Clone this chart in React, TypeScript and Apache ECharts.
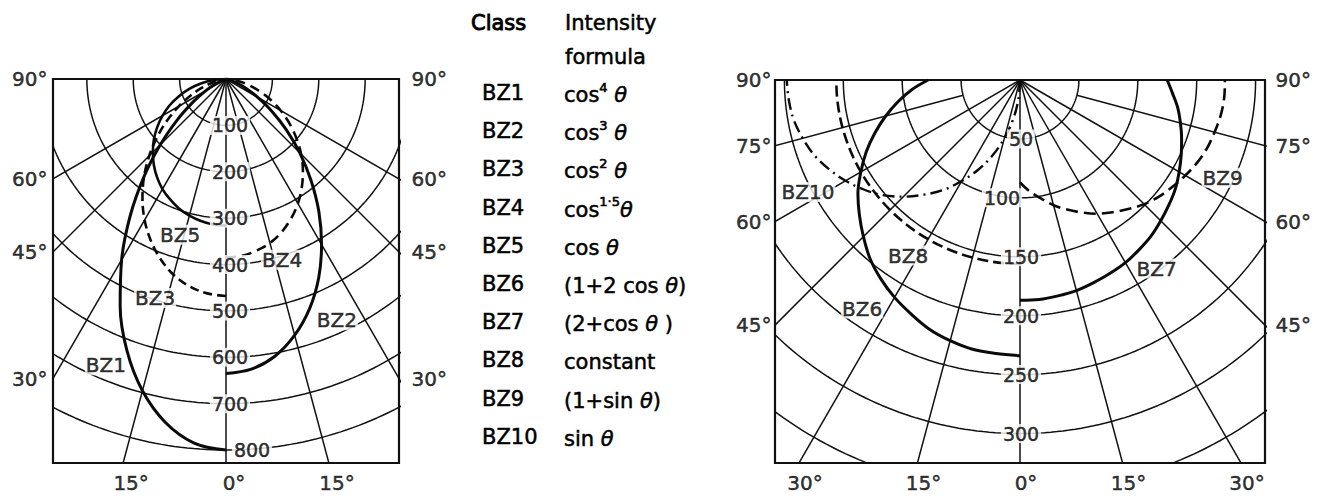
import React, { useEffect, useRef } from 'react';
import * as echarts from 'echarts';

// Angles (degrees from the downward vertical) at which the intensities are given
const ANGLES = [0, 5, 10, 15, 20, 25, 30, 35, 40, 45, 50, 55, 60, 65, 70, 75, 80, 85, 90];

// Left diagram: intensity distributions BZ1–BZ5
const BZ1 = [800, 788, 752, 696, 624, 540, 450, 360, 275, 200, 137, 87, 50, 26, 11, 4, 1, 0, 0];
const BZ2 = [635, 628, 607, 572, 527, 473, 412, 349, 285, 225, 169, 120, 79, 48, 25, 11, 3, 0, 0];
const BZ3 = [468, 464, 454, 437, 413, 384, 351, 314, 275, 234, 193, 154, 117, 84, 55, 31, 14, 4, 0];
const BZ4 = [385, 383, 376, 366, 351, 332, 310, 285, 258, 229, 198, 167, 136, 106, 77, 51, 28, 10, 0];
const BZ5 = [316, 315, 311, 305, 297, 286, 274, 259, 242, 223, 203, 181, 158, 134, 108, 82, 55, 28, 0];

// Right diagram: intensity distributions BZ6–BZ10
const BZ6 = [234, 233, 232, 229, 225, 219, 213, 206, 198, 188, 178, 168, 156, 144, 131, 118, 105, 92, 78];
const BZ7 = [187, 187, 186, 185, 183, 181, 179, 176, 173, 169, 165, 161, 156, 151, 146, 141, 136, 130, 125];
const BZ8 = [156, 156, 156, 156, 156, 156, 156, 156, 156, 156, 156, 156, 156, 156, 156, 156, 156, 156, 156];
const BZ9 = [87, 95, 102, 110, 117, 124, 131, 137, 143, 149, 154, 158, 162, 166, 169, 171, 173, 174, 174];
const BZ10 = [0, 17, 34, 51, 68, 84, 99, 114, 127, 140, 152, 162, 171, 179, 186, 191, 195, 197, 198];

// Polar grid
const LEFT_RINGS = [100, 200, 300, 400, 500, 600, 700, 800];
const RIGHT_RINGS = [50, 100, 150, 200, 250, 300, 350];
const LEFT_RING_LABELS = [100, 200, 300, 400, 500, 600, 700, 800];
const RIGHT_RING_LABELS = [50, 100, 150, 200, 250, 300];
const LEFT_SPOKES = [0, 15, 30, 45, 60];
const RIGHT_SPOKES = [0, 15, 30, 45, 60, 75];

// Angle tick labels around the frames
const LEFT_SIDE_TICKS = [90, 60, 45, 30];
const LEFT_BOTTOM_TICKS = [-15, 0, 15];
const RIGHT_SIDE_TICKS = [90, 75, 60, 45];
const RIGHT_BOTTOM_TICKS = [-30, -15, 0, 15, 30];

// Table of classes
const CLASSES = ['BZ1', 'BZ2', 'BZ3', 'BZ4', 'BZ5', 'BZ6', 'BZ7', 'BZ8', 'BZ9', 'BZ10'];
const FORMULAS = [
  '{t|cos}{s|4}{q| θ}',
  '{t|cos}{s|3}{q| θ}',
  '{t|cos}{s|2}{q| θ}',
  '{t|cos}{s|1·5}{q|θ}',
  '{t|cos }{q|θ}',
  '{t|(1+2 cos }{q|θ}{t|)}',
  '{t|(2+cos }{q|θ}{t| )}',
  '{t|constant}',
  '{t|(1+sin }{q|θ}{t|)}',
  '{t|sin }{q|θ}',
];

const FONT = '"DejaVu Sans", "Noto Sans", sans-serif';
const INK = '#000';
const INK_STROKE = { textBorderColor: '#000', textBorderWidth: 0.5 };

const rad = (d: number) => (d * Math.PI) / 180;
// intensity r at angle a (deg from nadir) on the left (-1) or right (+1) half
const polar = (r: number, a: number, side: number) => [side * r * Math.sin(rad(a)), r * Math.cos(rad(a))];

type Panel = {
  grid: { left: number; top: number; width: number; height: number };
  half: number;
  depth: number;
  rings: number[];
  ringLabels: number[];
  ringLabelShift: Record<number, number>;
  spokes: number[];
  spokeStart: Record<number, number>;
  sideTicks: number[];
  bottomTicks: number[];
  sideGap: [number, number];
  bottomShift: number;
  tags: { text: string; at: [number, number] }[];
};

const PANELS: Panel[] = [
  {
    grid: { left: 53, top: 79, width: 346, height: 384 },
    half: 373,
    depth: 828,
    rings: LEFT_RINGS,
    ringLabels: LEFT_RING_LABELS,
    ringLabelShift: { 800: 26 },
    spokes: LEFT_SPOKES,
    spokeStart: {},
    sideTicks: LEFT_SIDE_TICKS,
    bottomTicks: LEFT_BOTTOM_TICKS,
    sideGap: [5, 12],
    bottomShift: 8,
    tags: [
      { text: 'BZ5', at: [-99, 336] },
      { text: 'BZ4', at: [121, 390] },
      { text: 'BZ3', at: [-153, 472] },
      { text: 'BZ2', at: [239, 520] },
      { text: 'BZ1', at: [-259, 617] },
    ],
  },
  {
    grid: { left: 775, top: 80, width: 490, height: 383 },
    half: 208,
    depth: 325,
    rings: RIGHT_RINGS,
    ringLabels: RIGHT_RING_LABELS,
    ringLabelShift: { 100: -18 },
    spokes: RIGHT_SPOKES,
    spokeStart: { 75: 50 },
    sideTicks: RIGHT_SIDE_TICKS,
    bottomTicks: RIGHT_BOTTOM_TICKS,
    sideGap: [3, 10],
    bottomShift: 6,
    tags: [
      { text: 'BZ10', at: [-180, 95] },
      { text: 'BZ9', at: [172, 83] },
      { text: 'BZ8', at: [-95, 149] },
      { text: 'BZ7', at: [116, 160] },
      { text: 'BZ6', at: [-134, 194] },
    ],
  },
];

const CURVES = [
  { values: BZ1, panel: 0, side: -1, width: 3, type: 'solid' as any },
  { values: BZ2, panel: 0, side: 1, width: 3, type: 'solid' as any },
  { values: BZ3, panel: 0, side: -1, width: 2.6, type: [9, 5] },
  { values: BZ4, panel: 0, side: 1, width: 2.6, type: [10, 6] },
  { values: BZ5, panel: 0, side: -1, width: 2.6, type: 'solid' as any },
  { values: BZ6, panel: 1, side: -1, width: 3, type: 'solid' as any },
  { values: BZ7, panel: 1, side: 1, width: 3, type: 'solid' as any },
  { values: BZ8, panel: 1, side: -1, width: 2.6, type: [11, 5] },
  { values: BZ9, panel: 1, side: 1, width: 2.6, type: [12, 6] },
  { values: BZ10, panel: 1, side: -1, width: 2.4, type: [12, 5, 2, 5] },
];

function ringPoints(r: number) {
  const pts: number[][] = [];
  for (let a = -90; a <= 90; a += 1) pts.push(polar(r, Math.abs(a), a < 0 ? -1 : 1));
  return pts;
}

function gridLine(gi: number, data: number[][], z = 2, width = 1.5) {
  return {
    type: 'line',
    xAxisIndex: gi,
    yAxisIndex: gi,
    data,
    symbol: 'none',
    silent: true,
    clip: true,
    lineStyle: { color: '#111', width, type: 'solid' },
    z,
  };
}

function buildOption() {
  const series: any[] = [];

  PANELS.forEach((p, gi) => {
    p.rings.forEach((r) => series.push(gridLine(gi, ringPoints(r))));
    p.spokes.forEach((a) => {
      const r0 = p.spokeStart[a] ?? 0;
      const sides = a === 0 ? [1] : [-1, 1];
      sides.forEach((s) => series.push(gridLine(gi, [polar(r0, a, s), polar(3000, a, s)])));
    });

    // intensity values written along the nadir line
    series.push({
      type: 'scatter',
      xAxisIndex: gi,
      yAxisIndex: gi,
      symbolSize: 1,
      itemStyle: { color: 'rgba(0,0,0,0)' },
      silent: true,
      z: 6,
      data: p.ringLabels.map((r) => ({
        value: [0, r],
        label: {
          show: true,
          position: 'inside',
          formatter: String(r),
          offset: [p.ringLabelShift[r] ?? (gi === 0 ? 4 : 1), 0],
          fontFamily: FONT,
          fontSize: 19,
          color: INK,
          ...INK_STROKE,
          backgroundColor: '#fff',
          padding: [0, 2],
        },
      })),
    });

    // class tags inside the diagram
    series.push({
      type: 'scatter',
      xAxisIndex: gi,
      yAxisIndex: gi,
      symbolSize: 1,
      itemStyle: { color: 'rgba(0,0,0,0)' },
      silent: true,
      z: 6,
      data: p.tags.map((t) => ({
        value: t.at,
        label: {
          show: true,
          position: 'inside',
          formatter: t.text,
          fontFamily: FONT,
          fontSize: 20,
          color: INK,
          ...INK_STROKE,
          backgroundColor: '#fff',
          padding: [0, 1],
        },
      })),
    });

    // angle ticks where the spokes meet the frame
    const tickData: any[] = [];
    p.sideTicks.forEach((t) => {
      const y = t === 90 ? 0 : p.half / Math.tan(rad(t));
      tickData.push({ value: [-p.half, y], label: { position: 'left', distance: p.sideGap[0], formatter: `${t}°` } });
      tickData.push({ value: [p.half, y], label: { position: 'right', distance: p.sideGap[1], formatter: `${t}°` } });
    });
    p.bottomTicks.forEach((t) => {
      const x = Math.sign(t) * p.depth * Math.tan(rad(Math.abs(t)));
      tickData.push({
        value: [x, p.depth],
        label: { position: 'bottom', distance: 9, offset: [p.bottomShift, 0], formatter: `${Math.abs(t)}°` },
      });
    });
    series.push({
      type: 'scatter',
      xAxisIndex: gi,
      yAxisIndex: gi,
      symbolSize: 1,
      clip: false,
      itemStyle: { color: 'rgba(0,0,0,0)' },
      silent: true,
      z: 6,
      label: { show: true, fontFamily: FONT, fontSize: 20, color: INK, ...INK_STROKE },
      data: tickData,
    });
  });

  CURVES.forEach((c) => {
    series.push({
      type: 'line',
      xAxisIndex: c.panel,
      yAxisIndex: c.panel,
      data: ANGLES.map((a, i) => polar(c.values[i], a, c.side)),
      symbol: 'none',
      smooth: 0.35,
      silent: true,
      clip: true,
      lineStyle: { color: '#0a0a0a', width: c.width, type: c.type, cap: 'butt', join: 'round' },
      z: 4,
    });
  });

  const rowY = (i: number) => 93 + i * 38.2;
  const textStyle = { fontFamily: FONT, fontSize: 21, fill: INK, stroke: '#000', lineWidth: 0.5 };
  const graphic: any[] = [
    { type: 'text', x: 471, y: 23, z: 50, style: { ...textStyle, text: 'Class', verticalAlign: 'middle', lineWidth: 0.9 } },
    { type: 'text', x: 565, y: 23, z: 50, style: { ...textStyle, text: 'Intensity', verticalAlign: 'middle' } },
    { type: 'text', x: 565, y: 57, z: 50, style: { ...textStyle, text: 'formula', verticalAlign: 'middle' } },
  ];
  CLASSES.forEach((c, i) => {
    graphic.push({ type: 'text', x: 482, y: rowY(i), z: 50, style: { ...textStyle, text: c, verticalAlign: 'middle' } });
    graphic.push({
      type: 'text',
      x: 564,
      y: rowY(i),
      z: 50,
      style: {
        text: FORMULAS[i],
        verticalAlign: 'middle',
        fill: INK,
        rich: {
          t: { fontFamily: FONT, fontSize: 21, fill: INK, stroke: '#000', lineWidth: 0.5, lineHeight: 25, verticalAlign: 'bottom' },
          q: { fontFamily: FONT, fontSize: 21, fill: INK, stroke: '#000', lineWidth: 0.5, fontStyle: 'italic', lineHeight: 25, verticalAlign: 'bottom' },
          s: { fontFamily: FONT, fontSize: 13, fill: INK, stroke: '#000', lineWidth: 0.6, verticalAlign: 'top', lineHeight: 15 },
        },
      },
    });
  });

  return {
    animation: false,
    backgroundColor: '#fff',
    grid: PANELS.map((p) => ({
      ...p.grid,
      show: true,
      borderColor: '#111',
      borderWidth: 2.2,
      backgroundColor: 'transparent',
      containLabel: false,
    })),
    xAxis: PANELS.map((p, gi) => ({ type: 'value', gridIndex: gi, min: -p.half, max: p.half, show: false })),
    yAxis: PANELS.map((p, gi) => ({ type: 'value', gridIndex: gi, min: 0, max: p.depth, inverse: true, show: false })),
    series,
    graphic,
  };
}

export default function App() {
  const ref = useRef<HTMLDivElement>(null);
  useEffect(() => {
    const el = ref.current;
    if (!el) return;
    const chart = echarts.init(el, undefined, { renderer: 'svg' });
    chart.setOption(buildOption());
    return () => chart.dispose();
  }, []);
  return (
    <div
      ref={ref}
      style={{ position: 'fixed', left: 0, top: 0, width: 1327, height: 498, background: '#fff' }}
    />
  );
}
